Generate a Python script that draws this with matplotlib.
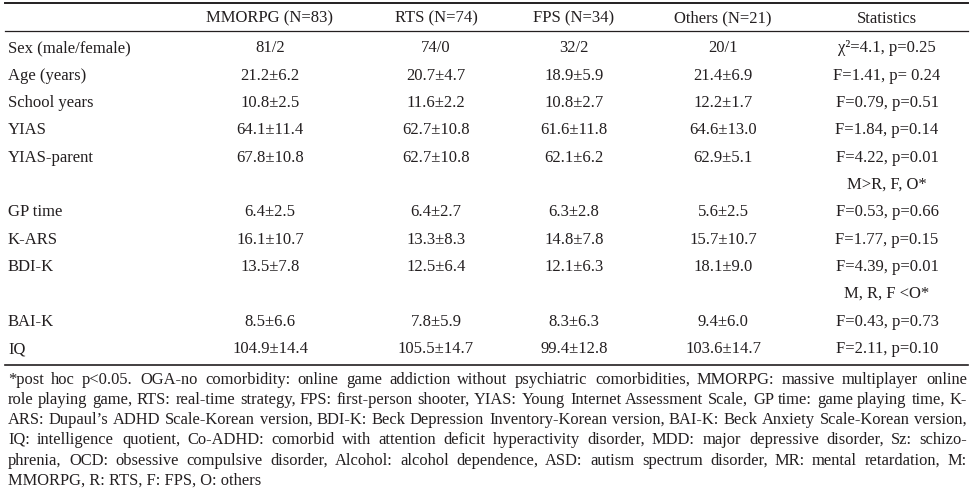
import matplotlib
matplotlib.use("Agg")
import matplotlib.pyplot as plt

plt.rcParams['font.family'] = ['Liberation Serif', 'DejaVu Serif']
INK = '#231f20'

columns = ["MMORPG (N=83)", "RTS (N=74)", "FPS (N=34)", "Others (N=21)", "Statistics"]
row_labels = ["Sex (male/female)", "Age (years)", "School years", "YIAS", "YIAS-parent", "",
              "GP time", "K-ARS", "BDI-K", "", "BAI-K", "IQ"]
mmorpg = ["81/2", "21.2±6.2", "10.8±2.5", "64.1±11.4", "67.8±10.8", "",
          "6.4±2.5", "16.1±10.7", "13.5±7.8", "", "8.5±6.6", "104.9±14.4"]
rts = ["74/0", "20.7±4.7", "11.6±2.2", "62.7±10.8", "62.7±10.8", "",
       "6.4±2.7", "13.3±8.3", "12.5±6.4", "", "7.8±5.9", "105.5±14.7"]
fps = ["32/2", "18.9±5.9", "10.8±2.7", "61.6±11.8", "62.1±6.2", "",
       "6.3±2.8", "14.8±7.8", "12.1±6.3", "", "8.3±6.3", "99.4±12.8"]
others = ["20/1", "21.4±6.9", "12.2±1.7", "64.6±13.0", "62.9±5.1", "",
          "5.6±2.5", "15.7±10.7", "18.1±9.0", "", "9.4±6.0", "103.6±14.7"]
stats = ["χ²=4.1, p=0.25", "F=1.41, p= 0.24", "F=0.79, p=0.51", "F=1.84, p=0.14",
         "F=4.22, p=0.01", "M>R, F, O*", "F=0.53, p=0.66", "F=1.77, p=0.15",
         "F=4.39, p=0.01", "M, R, F <O*", "F=0.43, p=0.73", "F=2.11, p=0.10"]
footnote = [
    "*post hoc p<0.05. OGA-no comorbidity: online game addiction without psychiatric comorbidities, MMORPG: massive multiplayer online",
    "role playing game, RTS: real-time strategy, FPS: first-person shooter, YIAS: Young Internet Assessment Scale, GP time: game playing time, K-",
    "ARS: Dupaul\u2019s ADHD Scale-Korean version, BDI-K: Beck Depression Inventory-Korean version, BAI-K: Beck Anxiety Scale-Korean version,",
    "IQ: intelligence quotient, Co-ADHD: comorbid with attention deficit hyperactivity disorder, MDD: major depressive disorder, Sz: schizo-",
    "phrenia, OCD: obsessive compulsive disorder, Alcohol: alcohol dependence, ASD: autism spectrum disorder, MR: mental retardation, M:",
    "MMORPG, R: RTS, F: FPS, O: others",
]

W, H = 974, 491
fig = plt.figure(figsize=(W / 100, H / 100), dpi=100)
ax = fig.add_axes([0, 0, 1, 1])
ax.set_xlim(0, W)
ax.set_ylim(H, 0)
ax.axis('off')

fs = 12
left, right = 8, 967
col_x = [270, 436, 574, 723, 887]
base = 5.5  # baseline offset below visual text centre

# rules
ax.plot([5, 968], [3, 3], color=INK, lw=1.4)
ax.plot([5, 968], [31, 31], color=INK, lw=0.9)

# header
for x, c in zip(col_x, columns):
    ax.text(x, 17 + base, c, ha='center', va='baseline', fontsize=fs, color=INK)

# body
y0, dy = 47, 27.3
for i, lab in enumerate(row_labels):
    y = round(y0 + i * dy + base)
    ax.text(left, y, lab, ha='left', va='baseline', fontsize=fs, color=INK)
    for x, col in zip(col_x, [mmorpg, rts, fps, others, stats]):
        ax.text(x, y, col[i], ha='center', va='baseline', fontsize=fs, color=INK)

y_rule = y0 + (len(row_labels) - 1) * dy + 18
ax.plot([5, 968], [y_rule, y_rule], color=INK, lw=1.2)

# footnote, justified word by word
renderer = fig.canvas.get_renderer()


def word_widths(words, size):
    out = []
    for w in words:
        t = ax.text(0, 0, w, fontsize=size)
        out.append(t.get_window_extent(renderer).width)
        t.remove()
    return out


# biggest size that still leaves a normal word gap on every justified line
min_gap = 4.5
fs_note = 12.6
while fs_note > 11:
    ok = True
    for line in footnote[:-1]:
        ws = line.split(" ")
        if (right - left - sum(word_widths(ws, fs_note))) / (len(ws) - 1) < min_gap:
            ok = False
            break
    if ok:
        break
    fs_note -= 0.1

fy0, fdy = y_rule + 13, 20.2
for j, line in enumerate(footnote):
    y = round(fy0 + j * fdy + base)
    if j == len(footnote) - 1:
        ax.text(left, y, line, ha='left', va='baseline', fontsize=fs_note, color=INK)
        continue
    words = line.split(" ")
    widths = word_widths(words, fs_note)
    gap = (right - left - sum(widths)) / (len(words) - 1)
    x = left
    for w, wd in zip(words, widths):
        ax.text(round(x), y, w, ha='left', va='baseline', fontsize=fs_note, color=INK)
        x += wd + gap

fig.savefig("out.png", dpi=100)
